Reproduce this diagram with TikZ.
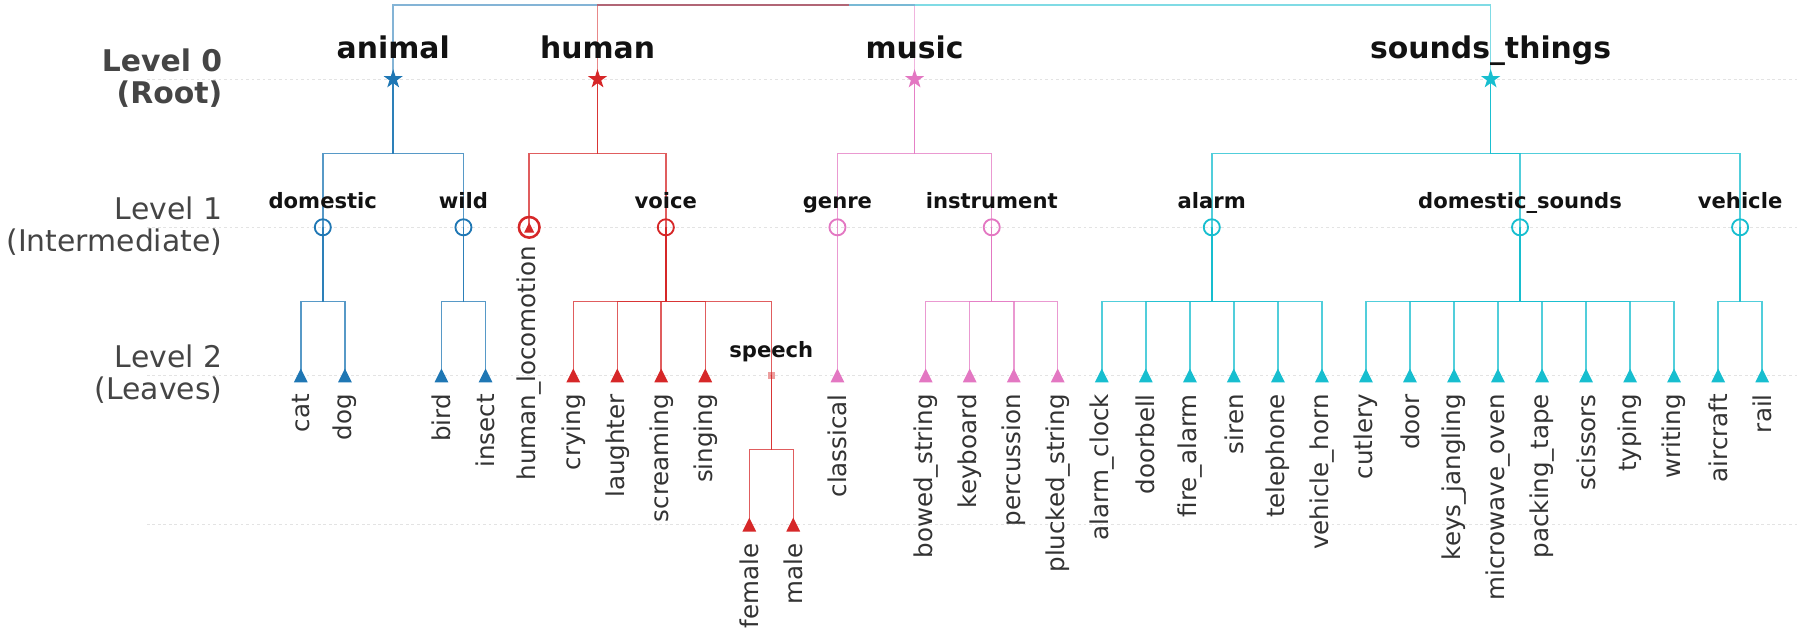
\documentclass[tikz,border=0pt]{standalone}
\usepackage{fontspec}
\setmainfont{DejaVu Sans}
\usetikzlibrary{shapes.geometric,positioning}

\definecolor{cblue}{HTML}{1F77B4}
\definecolor{cred}{HTML}{D62728}
\definecolor{cpink}{HTML}{E377C2}
\definecolor{ccyan}{HTML}{17BECF}

\begin{document}
\catcode`\_=12
\def\rootlist{animal/342.5/cblue,human/520.5/cred,music/796.7/cpink,sounds_things/1298.5/ccyan}
\def\midlist{domestic/281.2/animal/cblue,wild/403.7/animal/cblue,voice/580/human/cred,%
genre/729.5/music/cpink,instrument/863.9/music/cpink,alarm/1055.6/sounds_things/ccyan,%
domestic_sounds/1324.1/sounds_things/ccyan,vehicle/1515.8/sounds_things/ccyan}
\def\leaflist{cat/262/327/domestic/cblue,dog/300.5/327/domestic/cblue,bird/384.5/327/wild/cblue,insect/423/327/wild/cblue,%
crying/499.4/327/voice/cred,laughter/537.7/327/voice/cred,screaming/576/327/voice/cred,singing/614.4/327/voice/cred,%
female/652.7/457/speech/cred,male/691/457/speech/cred,classical/729.5/327/genre/cpink,%
bowed_string/806.4/327/instrument/cpink,keyboard/844.7/327/instrument/cpink,percussion/883.1/327/instrument/cpink,plucked_string/921.4/327/instrument/cpink,%
alarm_clock/959.8/327/alarm/ccyan,doorbell/998.1/327/alarm/ccyan,fire_alarm/1036.5/327/alarm/ccyan,siren/1074.8/327/alarm/ccyan,telephone/1113.2/327/alarm/ccyan,vehicle_horn/1151.5/327/alarm/ccyan,%
cutlery/1189.9/327/domestic_sounds/ccyan,door/1228.2/327/domestic_sounds/ccyan,keys_jangling/1266.6/327/domestic_sounds/ccyan,microwave_oven/1304.9/327/domestic_sounds/ccyan,%
packing_tape/1343.3/327/domestic_sounds/ccyan,scissors/1381.6/327/domestic_sounds/ccyan,typing/1420/327/domestic_sounds/ccyan,writing/1458.3/327/domestic_sounds/ccyan,%
aircraft/1496.7/327/vehicle/ccyan,rail/1535/327/vehicle/ccyan}
\begin{tikzpicture}[x=0.5pt,y=-0.5pt,
   gridline/.style={black!11,line width=0.45pt,dash pattern=on 1.2pt off 1.2pt},
   edge/.style={draw=#1,line width=0.65pt,opacity=0.75,
     to path={-- ++(0,64.5) -| (\tikztotarget)}},
   topedge/.style={draw=#1,line width=0.65pt,opacity=0.55},
   rootmark/.style={star,star points=5,star point ratio=2.6,minimum size=8.8pt,inner sep=0pt,fill=#1},
   midmark/.style={circle,draw=#1,line width=0.8pt,minimum size=7pt,inner sep=0pt},
   rootlabel/.style={font=\fontsize{13}{15}\selectfont\bfseries,text=black!93,inner sep=0pt,anchor=base},
   midlabel/.style={font=\fontsize{9.2}{11}\selectfont\bfseries,text=black!93,inner sep=0pt,anchor=base},
   leaflabel/.style={font=\fontsize{10.7}{12}\selectfont,text=black!80,rotate=90,anchor=east,inner sep=0pt},
   levellabel/.style={font=\fontsize{13}{15}\selectfont,text=black!73,anchor=base east,inner sep=0pt}]
\useasboundingbox (0,0) rectangle (1568,552);
% level guides
\foreach \y in {69,198,327,457}
  \draw[gridline] (128,\y) -- (1568,\y);
\foreach \y/\a/\b/\f in {69/Level 0/(Root)/\bfseries,198/Level 1/(Intermediate)/,327/Level 2/(Leaves)/}{
  \node[levellabel,font=\fontsize{13}{15}\selectfont\f] (lev\y a) at (194,\y-7) {\a};
  \node[levellabel,font=\fontsize{13}{15}\selectfont\f] (lev\y b) at (194,\y+21) {\b};
}
% positions
\coordinate (top) at (739.6,4.5);
\foreach \n/\x/\c in \rootlist
  \coordinate (\n) at (\x,69);
\foreach \n/\x/\p/\c in \midlist
  \coordinate (\n) at (\x,198);
\coordinate (human_locomotion) at (461,198);
\coordinate (speech) at (671.9,327);
\foreach \n/\x/\y/\p/\c in \leaflist
  \coordinate (\n) at (\x,\y);
% connectors
\foreach \n/\x/\c in \rootlist
  \draw[topedge=\c] (\n) |- (top);
\foreach \n/\x/\p/\c in \midlist
  \draw[edge=\c] (\p) to (\n);
\draw[edge=cred] (human) to (human_locomotion);
\draw[edge=cred] (voice) to (speech);
\foreach \n/\x/\y/\p/\c in \leaflist
  \draw[edge=\c] (\p) to (\n);
% markers
\foreach \n/\x/\c in \rootlist
  \node[rootmark=\c] (\n-mk) at (\n) {};
\foreach \n/\x/\p/\c in \midlist
  \node[midmark=\c] (\n-mk) at (\n) {};
\node[midmark=cred,minimum size=9pt,line width=1.1pt] (human_locomotion-mk) at (human_locomotion) {};
\fill[cred] (human_locomotion) ++(-4.4,4.6) -- ++(8.8,0) -- ++(-4.4,-8.8) -- cycle;
\node[fill=cred,opacity=0.45,minimum size=3.3pt,inner sep=0pt] (speech-mk) at (speech) {};
\foreach \n/\x/\y/\p/\c in \leaflist
  \fill[\c] (\n) ++(-6,6) -- ++(12,0) -- ++(-6,-12) -- cycle;
% labels
\foreach \n/\x/\c in \rootlist
  \node[above=9pt of \n,rootlabel] (\n-lb) {\n};
\foreach \n/\x/\p/\c in \midlist
  \node[above=8.2pt of \n,midlabel] (\n-lb) {\n};
\node[above=8pt of speech,midlabel] (speech-lb) {speech};
\node[below=8pt of human_locomotion,leaflabel] (human_locomotion-lb) {human_locomotion};
\foreach \n/\x/\y/\p/\c in \leaflist
  \node[below=8pt of \n,leaflabel] (\n-lb) {\n};
\end{tikzpicture}
\end{document}
